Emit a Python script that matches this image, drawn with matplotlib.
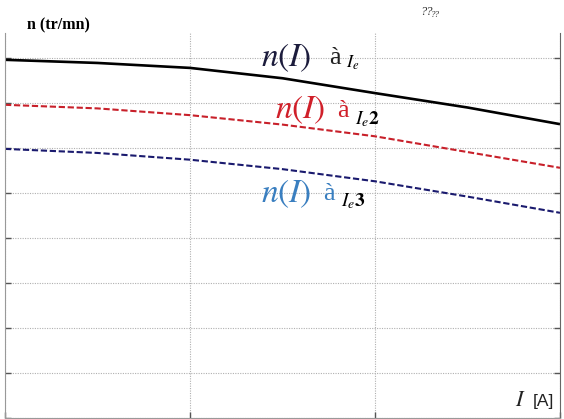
import matplotlib
matplotlib.use("Agg")
import matplotlib.pyplot as plt

plt.rcParams['mathtext.fontset'] = 'stix'

# Data
current = [0, 0.5, 1, 1.5, 2, 2.5, 3]
n_ie = [7.96, 7.89, 7.78, 7.55, 7.22, 6.90, 6.53]
n_ie2 = [6.96, 6.88, 6.73, 6.52, 6.26, 5.91, 5.56]
n_ie3 = [5.98, 5.89, 5.74, 5.53, 5.26, 4.92, 4.56]
x_ticks = [0, 1, 2, 3]
y_ticks = [0, 1, 2, 3, 4, 5, 6, 7, 8]

W, H = 564, 419
fig = plt.figure(figsize=(W / 100, H / 100), dpi=100)
ax = fig.add_axes([5 / W, 1 - 418 / H, 555 / W, 385 / H])

ax.plot(current, n_ie, color='black', lw=1.9, solid_capstyle='butt')
ax.plot(current, n_ie2, color='#c8202a', lw=1.5, ls=(0, (3, 1.3)))
ax.plot(current, n_ie3, color='#1a1a6e', lw=1.5, ls=(0, (3, 1.3)))

ax.set_xlim(0, 3)
ax.set_ylim(0, 385 / 45)
ax.set_xticks(x_ticks)
ax.set_yticks(y_ticks)
ax.set_xticklabels([])
ax.set_yticklabels([])
ax.tick_params(direction='in', length=4, width=1, colors='#555555',
               left=True, right=True, bottom=True, top=False)
ax.grid(True, color='#b0b0b0', ls=(0, (1, 1.2)), lw=0.8)
ax.spines['top'].set_visible(False)
for s in ['left', 'bottom']:
    ax.spines[s].set_color('#999999')
ax.spines['right'].set_color('#666666')


def ft(x, y, s, **kw):
    fig.text(x / W, 1 - y / H, s, va='center', ha='left', **kw)


# Axis titles
ft(27, 25, 'n (tr/mn)', fontsize=11.5, fontweight='bold', family='Liberation Serif')
ft(420, 12, '??', fontsize=9, style='italic', family='Liberation Serif', color='#333333')
ft(431, 15, '??', fontsize=6.5, style='italic', family='Liberation Serif', color='#333333')
ft(515, 400, '$I$', fontsize=16, color='#222222')
ft(533, 401, '[A]', fontsize=12.5, family='Liberation Sans', color='#222222')

# Curve labels
ft(261, 57, '$n(I)$', fontsize=24, color='#1c1c3c')
ft(329, 58, 'à', fontsize=19, family='Liberation Serif', color='#222222')
ft(346, 63, r'$\boldsymbol{I_e}$', fontsize=13, color='black')

ft(275, 110, '$n(I)$', fontsize=24, color='#d0202a')
ft(337, 111, 'à', fontsize=19, family='Liberation Serif', color='#d0202a')
ft(355, 119, r'$\boldsymbol{I_e}\mathbf{2}$', fontsize=14, color='black')

ft(261, 193, '$n(I)$', fontsize=24, color='#3a7fc0')
ft(323, 194, 'à', fontsize=19, family='Liberation Serif', color='#3a7fc0')
ft(341, 201, r'$\boldsymbol{I_e}\mathbf{3}$', fontsize=14, color='black')

fig.savefig('out.png', dpi=100)
